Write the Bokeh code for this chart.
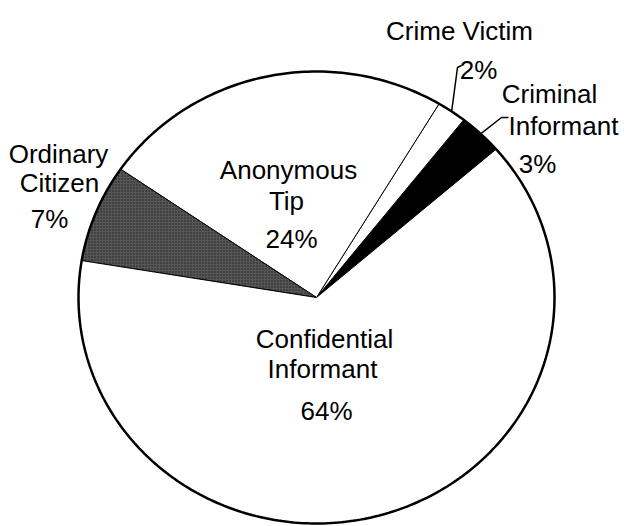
import numpy as np
from bokeh.plotting import figure
from bokeh.models import Range1d, ColumnDataSource
from bokeh.core.properties import value
from bokeh.embed import file_html
from bokeh.resources import INLINE

# Data (counter-clockwise order starting at the Criminal Informant slice)
categories = ["Criminal Informant", "Crime Victim", "Anonymous Tip",
              "Ordinary Citizen", "Confidential Informant"]
shares = [3, 2, 24, 7, 64]
label_lines = [["Criminal", "Informant"], ["Crime Victim"], ["Anonymous", "Tip"],
               ["Ordinary", "Citizen"], ["Confidential", "Informant"]]
fills = ["#000000", "#ffffff", "#ffffff", "#575757", "#ffffff"]
hatches = [" ", " ", " ", "dot", " "]

# Layout constants (pixel space)
W, H = 624, 526
CX, CY, RX, RY = 316, 297, 238, 226
START = np.deg2rad(41)
FONT = value("Liberation Sans")
FS = "26px"

# label line positions (x, baseline y) per slice, last entry is percentage
label_pos = [
    [(549, 93), (563, 125), (537, 163)],
    [(459, 30), (478, 69)],
    [(288, 169), (286, 200), (291, 238)],
    [(58, 153), (59, 182), (49, 218)],
    [(324, 338), (322, 368), (326, 410)],
]

p = figure(width=W, height=H, x_range=Range1d(0, W), y_range=Range1d(H, 0),
           output_backend="svg", toolbar_location=None, min_border=0,
           x_axis_location=None, y_axis_location=None)
p.grid.visible = False
p.outline_line_color = None
p.background_fill_color = "white"
p.border_fill_color = "white"

frac = np.array(shares, dtype=float) / sum(shares)
edges = START + 2 * np.pi * np.concatenate([[0], np.cumsum(frac)])
xs, ys = [], []
for a0, a1 in zip(edges[:-1], edges[1:]):
    t = np.linspace(a0, a1, max(int(np.degrees(a1 - a0) * 2), 12))
    xs.append(list(np.concatenate([[CX], CX + RX * np.cos(t), [CX]])))
    ys.append(list(np.concatenate([[CY], CY - RY * np.sin(t), [CY]])))

src = ColumnDataSource(dict(xs=xs, ys=ys, fill=fills, hatch=hatches, cat=categories))
p.patches("xs", "ys", source=src, fill_color="fill", line_color="black",
          line_width=1, hatch_pattern="hatch", hatch_color="#1e1e1e",
          hatch_scale=3, hatch_weight=1)

# outer outline
tt = np.linspace(0, 2 * np.pi, 400)
p.line(CX + RX * np.cos(tt), CY - RY * np.sin(tt), line_color="black", line_width=2.5)

# leader lines for the two small slices
mids = (edges[:-1] + edges[1:]) / 2
m0 = mids[0]
p.line([CX + RX * np.cos(m0), 501, 508], [CY - RY * np.sin(m0), 117, 117],
       line_color="black", line_width=1.5)
m1 = mids[1]
p.line([CX + RX * np.cos(m1), 457, 461], [CY - RY * np.sin(m1), 67, 65],
       line_color="black", line_width=1.5)

# labels
tx, ty, txt = [], [], []
for lines, share, pos in zip(label_lines, shares, label_pos):
    texts = lines + [f"{share}%"]
    for s, (x, y) in zip(texts, pos):
        tx.append(x)
        ty.append(y)
        txt.append(s)
p.text(x=tx, y=ty, text=txt, text_font=FONT, text_font_size=FS,
       text_align="center", text_baseline="alphabetic", text_color="black")

open("out.html", "w").write(file_html(p, INLINE))
